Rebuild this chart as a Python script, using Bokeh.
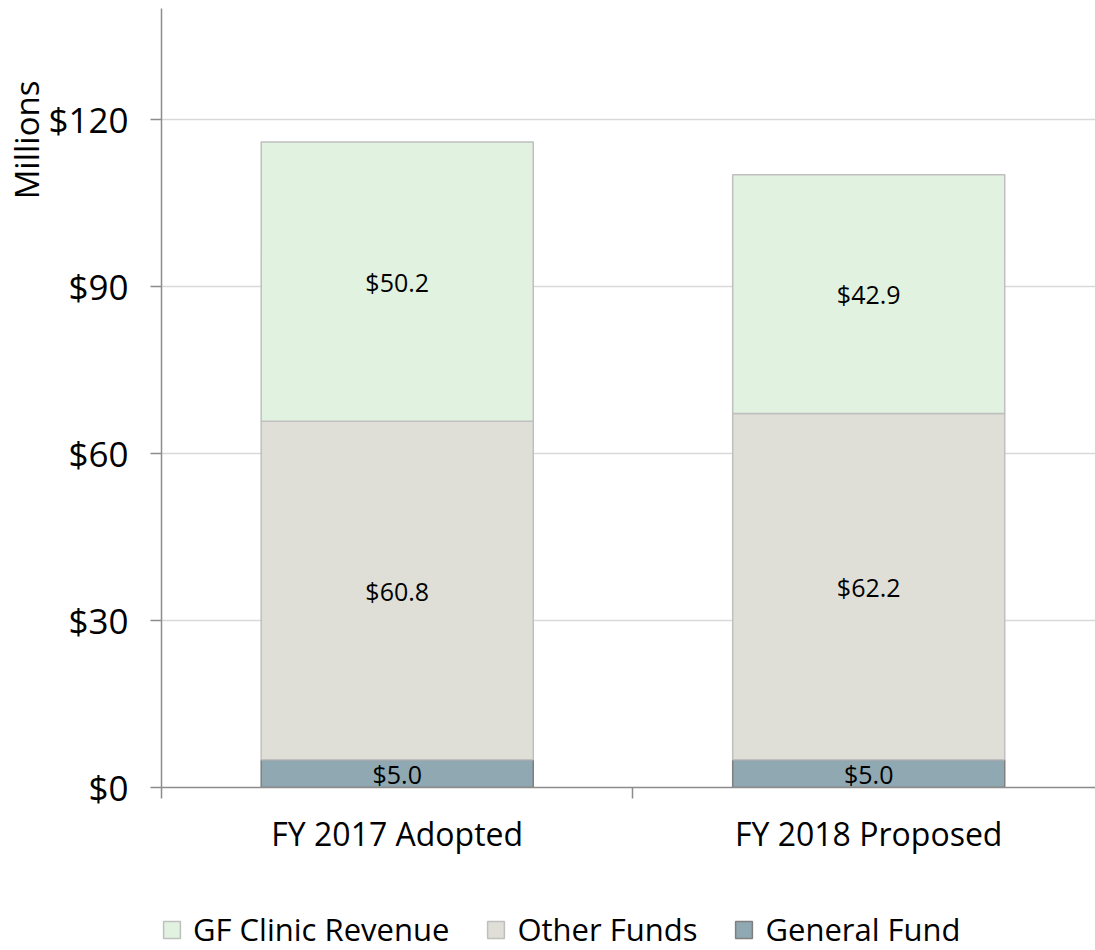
import numpy as np
from bokeh.plotting import figure
from bokeh.layouts import column
from bokeh.models import (ColumnDataSource, Range1d, FixedTicker, Legend, LegendItem,
                          Title, NumeralTickFormatter)
from bokeh.core.properties import value
from bokeh.embed import file_html
from bokeh.resources import INLINE

categories = ["FY 2017 Adopted", "FY 2018 Proposed"]
series_names = ["GF Clinic Revenue", "Other Funds", "General Fund"]
general_fund = [5.0, 5.0]
other_funds = [60.8, 62.2]
gf_clinic_revenue = [50.2, 42.9]
y_ticks = [0, 30, 60, 90, 120]

FONT = "Open Sans"
colors = {"gf": "#E2F2E0", "other": "#DFDFD7", "general": "#8FA8B2"}
lines = {"gf": "#BFBFBF", "other": "#BFBFBF", "general": "#7F7F7F"}

xs = [i + 0.5 for i in range(len(categories))]
b1 = [0.0] * len(categories)
t1 = [b + v for b, v in zip(b1, general_fund)]
t2 = [b + v for b, v in zip(t1, other_funds)]
t3 = [b + v for b, v in zip(t2, gf_clinic_revenue)]

p = figure(width=1095, height=870, output_backend="svg", toolbar_location=None,
           x_range=Range1d(0, 1.981), y_range=Range1d(0, 140),
           min_border_left=161, min_border_right=0, min_border_top=8, min_border_bottom=83)
p.outline_line_color = None
p.background_fill_color = "white"
p.border_fill_color = "white"

W = 0.577
r_gen = p.vbar(x=xs, bottom=b1, top=t1, width=W, fill_color=colors["general"],
               line_color=lines["general"], line_width=1.5)
r_oth = p.vbar(x=xs, bottom=t1, top=t2, width=W, fill_color=colors["other"],
               line_color=lines["other"], line_width=1.5)
r_gf = p.vbar(x=xs, bottom=t2, top=t3, width=W, fill_color=colors["gf"],
              line_color=lines["gf"], line_width=1.5)

# data labels
lab_x, lab_y, lab_t = [], [], []
for vals, bots in ((general_fund, b1), (other_funds, t1), (gf_clinic_revenue, t2)):
    for x, v, b in zip(xs, vals, bots):
        lab_x.append(x)
        lab_y.append(b + v / 2)
        lab_t.append("${:.1f}".format(v))
src = ColumnDataSource(dict(x=lab_x, y=lab_y, t=lab_t))
p.text(x="x", y="y", text="t", source=src, text_align="center", text_baseline="middle",
       text_font=value(FONT), text_font_size="25px", text_color="#000000")

# y axis
ya = p.yaxis[0]
ya.ticker = FixedTicker(ticks=y_ticks)
ya.formatter = NumeralTickFormatter(format="$0")
ya.major_label_text_font = FONT
ya.major_label_text_font_size = "35px"
ya.major_label_text_color = "#000000"
ya.axis_line_color = "#8C8C8C"
ya.axis_line_width = 1.5
ya.major_tick_line_color = "#8C8C8C"
ya.major_tick_line_width = 1.5
ya.major_tick_out = 11
ya.major_tick_in = 0
ya.minor_tick_line_color = None
ya.major_label_standoff = 22

# x axis
xa = p.xaxis[0]
xa.ticker = FixedTicker(ticks=xs, minor_ticks=[0, 1, 2])
xa.major_label_overrides = {x: c for x, c in zip(xs, categories)}
xa.major_label_text_font = FONT
xa.major_label_text_font_size = "32px"
xa.major_label_text_color = "#000000"
xa.axis_line_color = "#8C8C8C"
xa.axis_line_width = 1.5
xa.major_tick_line_color = None
xa.major_tick_out = 0
xa.major_tick_in = 0
xa.minor_tick_line_color = "#8C8C8C"
xa.minor_tick_line_width = 1.5
xa.minor_tick_out = 11
xa.minor_tick_in = 0
xa.major_label_standoff = 13

p.xgrid.grid_line_color = None
p.ygrid.ticker = FixedTicker(ticks=y_ticks[1:])
p.ygrid.grid_line_color = "#D9D9D9"
p.ygrid.grid_line_width = 1.5

p.add_layout(Title(text="Millions", align="right", offset=72, standoff=-7, text_font=FONT,
                   text_font_size="33px", text_font_style="normal",
                   text_color="#000000"), "left")

# legend strip below the chart (swatch renderers hold no drawable point)
pl = figure(width=1095, height=80, output_backend="svg", toolbar_location=None,
            x_axis_type=None, y_axis_type=None, x_range=Range1d(0, 1), y_range=Range1d(0, 1),
            min_border_left=0, min_border_right=0, min_border_top=0, min_border_bottom=0)
pl.outline_line_color = None
pl.grid.visible = False
keys = ["gf", "other", "general"]
items = []
for name, k in zip(series_names, keys):
    r = pl.vbar(x=np.array([np.nan]), top=np.array([np.nan]), width=0.5,
                fill_color=colors[k], line_color=lines[k], line_width=1.5)
    items.append(LegendItem(label=name, renderers=[r]))
legend = Legend(items=items, orientation="horizontal", location=(0, 0),
                label_text_font=FONT, label_text_font_size="31px", label_text_color="#000000",
                glyph_width=21, glyph_height=21, label_standoff=11, spacing=36,
                padding=0, margin=0, border_line_color=None, background_fill_alpha=0)
pl.add_layout(legend, "center")

layout = column(p, pl, spacing=0)
open("out.html", "w").write(file_html(layout, INLINE))
